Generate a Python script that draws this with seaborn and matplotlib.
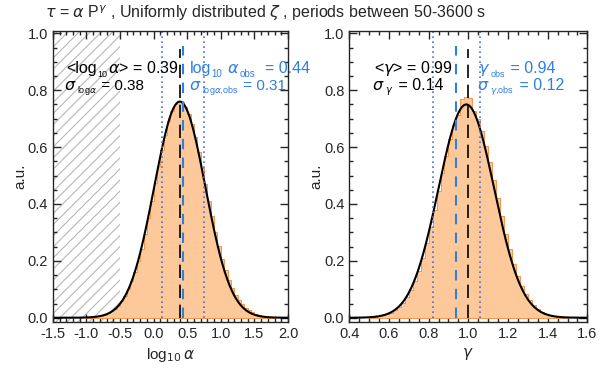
import numpy as np
import pandas as pd
import matplotlib
matplotlib.use("Agg")
import matplotlib.pyplot as plt
from matplotlib.ticker import MultipleLocator, FormatStrFormatter
import seaborn as sns

# histogram of log10(alpha): bin range + heights (a.u.)
alpha_range = (-1.0, 1.8)
alpha_hist = [0.002, 0.002, 0.003, 0.005, 0.007, 0.011, 0.016, 0.022, 0.031, 0.043,
              0.058, 0.077, 0.101, 0.128, 0.160, 0.198, 0.243, 0.296, 0.352, 0.412,
              0.474, 0.533, 0.590, 0.644, 0.690, 0.728, 0.752, 0.762, 0.758, 0.742,
              0.716, 0.680, 0.636, 0.584, 0.528, 0.470, 0.412, 0.356, 0.302, 0.252,
              0.207, 0.168, 0.134, 0.105, 0.081, 0.062, 0.047, 0.035, 0.026, 0.019,
              0.014, 0.010, 0.007, 0.005, 0.003, 0.002]
alpha_fit = dict(amp=0.76, mean=0.39, sigma=0.38)
alpha_obs = dict(mean=0.44, sigma=0.31)

# histogram of gamma
gamma_range = (0.50, 1.50)
gamma_hist = [0.002, 0.003, 0.005, 0.008, 0.012, 0.018, 0.026, 0.037, 0.052, 0.072,
              0.097, 0.128, 0.166, 0.210, 0.262, 0.318, 0.380, 0.444, 0.508, 0.570,
              0.628, 0.676, 0.714, 0.768, 0.775, 0.772, 0.728, 0.700, 0.656, 0.604,
              0.546, 0.484, 0.420, 0.356, 0.296, 0.240, 0.190, 0.148, 0.113, 0.084,
              0.061, 0.044, 0.031, 0.021, 0.014, 0.009, 0.006, 0.004, 0.002, 0.001]
gamma_fit = dict(amp=0.75, mean=0.99, sigma=0.14)
gamma_obs = dict(mean=0.94, sigma=0.12)
gamma_mean_line = 1.0

sns.set_style("ticks")
plt.rcParams['font.family'] = ['Liberation Sans', 'DejaVu Sans']
plt.rcParams['mathtext.fontset'] = 'dejavusans'
plt.rcParams['hatch.linewidth'] = 0.8

blue = '#2f7fe0'
dot_blue = '#4a6fd8'
fill_c = '#fdc99a'
edge_c = '#f08a3c'

fig = plt.figure(figsize=(6.0, 3.74), dpi=100)
ax1 = fig.add_axes([0.088, 0.139, 0.392, 0.778])
ax2 = fig.add_axes([0.582, 0.139, 0.397, 0.778])


def panel(ax, brange, hist, fit, obs, mean_line, xlim):
    n = len(hist)
    width = (brange[1] - brange[0]) / n
    df = pd.DataFrame({'x': brange[0] + width * (np.arange(n) + 0.5), 'w': hist})
    sns.histplot(data=df, x='x', weights='w', bins=n, binrange=brange, element='step',
                 fill=True, facecolor=fill_c, edgecolor=edge_c, linewidth=0.6, alpha=1, ax=ax)
    xs = np.linspace(xlim[0], xlim[1], 400)
    ys = fit['amp'] * np.exp(-(xs - fit['mean']) ** 2 / (2 * fit['sigma'] ** 2))
    ax.plot(xs, ys, color='black', lw=1.5)
    ax.axvline(mean_line, 0.015, 0.94, color='black', lw=1.2, dashes=(8, 4))
    ax.axvline(obs['mean'], 0.015, 0.95, color=blue, lw=1.5, dashes=(5, 4))
    for v in (obs['mean'] - obs['sigma'], obs['mean'] + obs['sigma']):
        ax.axvline(v, 0.015, 1, color=dot_blue, lw=1.2, ls=(0, (1, 2)))
    ax.set_xlim(*xlim)
    ax.set_ylim(-0.015, 1.008)
    ax.yaxis.set_major_locator(MultipleLocator(0.2))
    ax.yaxis.set_minor_locator(MultipleLocator(0.05))
    ax.yaxis.set_major_formatter(FormatStrFormatter('%.1f'))
    ax.xaxis.set_major_formatter(FormatStrFormatter('%.1f'))
    ax.tick_params(which='both', direction='in', top=True, right=True, labelsize=10.5)
    ax.tick_params(which='major', length=6, width=1)
    ax.tick_params(which='minor', length=3, width=1)
    for s in ax.spines.values():
        s.set_linewidth(1)
    ax.set_ylabel('a.u.', fontsize=11, labelpad=0)


def rich_text(ax, x, y, pieces, color='black'):
    # pieces: (text, fontsize, vertical offset in points), drawn one after another
    prev = ax.text(x, y, pieces[0][0], fontsize=pieces[0][1], color=color, va='baseline')
    for s, size, dy in pieces[1:]:
        prev = ax.annotate(s, xy=(1, y), xycoords=(prev, 'data'), xytext=(0.3, dy),
                           textcoords='offset points', fontsize=size, color=color,
                           va='baseline', ha='left')


panel(ax1, alpha_range, alpha_hist, alpha_fit, alpha_obs, alpha_fit['mean'], (-1.5, 2.0))
ax1.axvspan(-1.5, -0.5, facecolor='none', hatch='///', edgecolor='#b8b8b8', lw=0, zorder=0)
ax1.xaxis.set_major_locator(MultipleLocator(0.5))
ax1.xaxis.set_minor_locator(MultipleLocator(0.1))
ax1.set_xlabel(r'log$_{10}\,\alpha$', fontsize=11)
rich_text(ax1, -1.30, 0.860, [('<log', 11.5, 0), ('10', 6.5, -2.5), (r'$\alpha$> = 0.39', 11.5, 0)])
rich_text(ax1, -1.33, 0.802, [(r'$\sigma$', 11.5, 0), (r'log$\alpha$', 6.5, -2.5), (' = 0.38', 11, 0)])
rich_text(ax1, 0.54, 0.860, [('log', 11.5, 0), ('10', 7, -2.5), (r' $\alpha$', 11.5, 0),
                             ('obs', 7, -2.5), ('  = 0.44', 11.5, 0)], blue)
rich_text(ax1, 0.53, 0.802, [(r'$\sigma$', 11.5, 0), (r'log$\alpha$,obs', 6.5, -2.5), (' = 0.31', 11, 0)], blue)

panel(ax2, gamma_range, gamma_hist, gamma_fit, gamma_obs, gamma_mean_line, (0.4, 1.6))
ax2.xaxis.set_major_locator(MultipleLocator(0.2))
ax2.xaxis.set_minor_locator(MultipleLocator(0.05))
ax2.set_xlabel(r'$\gamma$', fontsize=11)
rich_text(ax2, 0.525, 0.860, [(r'<$\gamma$> = 0.99', 11.5, 0)])
rich_text(ax2, 0.515, 0.802, [(r'$\sigma$', 11.5, 0), (r'$\gamma$', 7, -2.5), (' = 0.14', 11.5, 0)])
rich_text(ax2, 1.05, 0.860, [(r'$\gamma$', 11.5, 0), ('obs', 6.5, -2.5), (' = 0.94', 11.5, 0)], blue)
rich_text(ax2, 1.045, 0.802, [(r'$\sigma$', 11.5, 0), (r'$\gamma$,obs', 6.5, -2.5), (' = 0.12', 11.5, 0)], blue)

fig.text(0.075, 0.965, r'$\tau$ = $\alpha$ P$^{\gamma}$ , Uniformly distributed $\zeta$ , periods between 50-3600 s',
         fontsize=11.5, va='center')

fig.savefig('out.png', dpi=100)
